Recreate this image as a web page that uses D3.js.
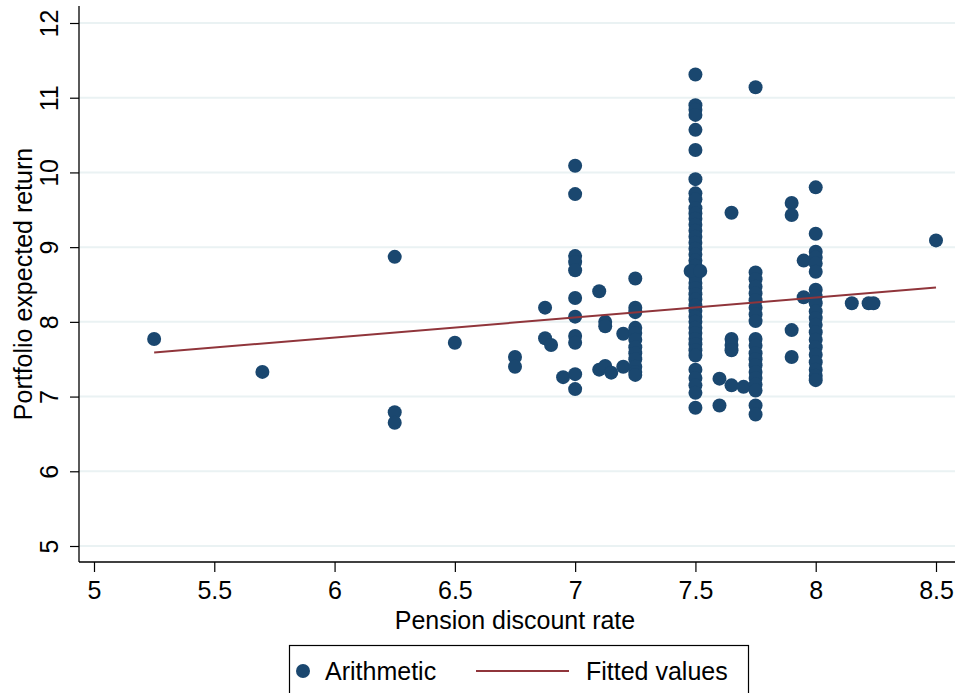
<!DOCTYPE html>
<html><head><meta charset="utf-8">
<script src="https://cdn.jsdelivr.net/npm/d3@7"></script>
<style>
html,body{margin:0;padding:0;background:#fff;}
svg{display:block;font-family:"Liberation Sans",Arial,sans-serif;}
</style></head>
<body><svg id="c" width="959" height="693"></svg>
<script>
// ---- data ----
const discountRate = [
 5.25, 5.7, 6.25, 6.25, 6.25, 6.5, 6.75, 6.75, 6.875, 6.875, 6.9, 6.95,
 7,7,7,7,7,7,7,7,7,7,7,
 7.1, 7.1, 7.125, 7.125, 7.125, 7.15, 7.2, 7.2,
 7.25,7.25,7.25,7.25,7.25,7.25,7.25,7.25,7.25,7.25,7.25,7.25,
 7.5,7.5,7.5,7.5,7.5,7.5,7.5,7.5,7.5,7.5,7.5,7.5,7.5,7.5,7.5,7.5,7.5,7.5,7.5,7.5,
 7.5,7.5,7.5,7.5,7.5,7.5,7.5,7.5,7.5,7.5,7.5,7.5,7.5,7.5,7.5,7.5,7.5,7.5,7.5,7.5,7.5,
 7.48, 7.52,
 7.6, 7.6, 7.65, 7.65, 7.65, 7.65, 7.65, 7.7,
 7.75,7.75,7.75,7.75,7.75,7.75,7.75,7.75,7.75,7.75,7.75,7.75,7.75,7.75,7.75,7.75,7.75,7.75,7.75,7.75,
 7.9, 7.9, 7.9, 7.9, 7.95, 7.95,
 8,8,8,8,8,8,8,8,8,8,8,8,8,8,8,8,8,8,8,8,
 8.15, 8.22, 8.24, 8.5
];
const expectedReturn = [
 7.77, 7.33, 8.87, 6.79, 6.65, 7.72, 7.53, 7.40, 8.19, 7.78, 7.69, 7.26,
 10.09, 9.71, 8.88, 8.80, 8.69, 8.32, 8.07, 7.81, 7.72, 7.30, 7.10,
 8.41, 7.36, 8.00, 7.94, 7.41, 7.32, 7.84, 7.40,
 8.58, 8.19, 8.13, 7.92, 7.85, 7.76, 7.66, 7.58, 7.50, 7.40, 7.33, 7.29,
 11.31, 10.90, 10.84, 10.77, 10.57, 10.30, 9.91, 9.72, 9.64, 9.52, 9.45, 9.38, 9.30, 9.22, 9.14, 9.06, 8.98, 8.90, 8.82, 8.75,
 8.68, 8.60, 8.52, 8.45, 8.37, 8.30, 8.22, 8.15, 8.07, 8.00, 7.92, 7.85, 7.77, 7.70, 7.62, 7.55, 7.36, 7.25, 7.15, 7.05, 6.85,
 8.68, 8.68,
 7.24, 6.88, 9.46, 7.77, 7.69, 7.62, 7.15, 7.13,
 11.14, 8.66, 8.57, 8.47, 8.38, 8.29, 8.19, 8.10, 8.01, 7.77, 7.68, 7.58, 7.50, 7.42, 7.33, 7.25, 7.16, 7.08, 6.88, 6.76,
 9.59, 9.43, 7.89, 7.53, 8.82, 8.33,
 9.80, 9.18, 8.94, 8.86, 8.78, 8.67, 8.43, 8.34, 8.25, 8.14, 8.05, 7.96, 7.86, 7.76, 7.66, 7.56, 7.46, 7.36, 7.28, 7.22,
 8.25, 8.25, 8.25, 9.09
];
const fitX = [5.25, 8.5];
const fitY = [7.59, 8.46];
const xTicks = [5, 5.5, 6, 6.5, 7, 7.5, 8, 8.5];
const yTicks = [5, 6, 7, 8, 9, 10, 11, 12];
const xTitle = "Pension discount rate";
const yTitle = "Portfolio expected return";
const legendLabels = ["Arithmetic", "Fitted values"];

// ---- layout ----
const svg = d3.select("#c");
const L = 79, R = 955, T = 6, B = 562;
const x = d3.scaleLinear().domain([5, 8.5]).range([94, 936]);
const y = d3.scaleLinear().domain([5, 12]).range([546, 23]);
const navy = "#1a476f", maroon = "#90353b";

// grid
svg.append("g").selectAll("line").data(yTicks).join("line")
  .attr("x1", L).attr("x2", R)
  .attr("y1", d => y(d)).attr("y2", d => y(d))
  .attr("stroke", "#eaf2f3").attr("stroke-width", 2);

// axes
const xAxis = svg.append("g").attr("transform", `translate(0,${B})`)
  .call(d3.axisBottom(x).tickValues(xTicks).tickSize(10).tickPadding(9)
    .tickFormat(d3.format("~g")));
xAxis.select(".domain").remove();
xAxis.selectAll("line").attr("stroke", "#000").attr("stroke-width", 1.2);
xAxis.selectAll("text").attr("font-size", 25).attr("fill", "#000")
  .attr("font-family", "Liberation Sans, Arial, sans-serif");

const yAxis = svg.append("g").attr("transform", `translate(${L},0)`)
  .call(d3.axisLeft(y).tickValues(yTicks).tickSize(9).tickPadding(0)
    .tickFormat(d3.format("~g")));
yAxis.select(".domain").remove();
yAxis.selectAll("line").attr("stroke", "#000").attr("stroke-width", 1.2);
yAxis.selectAll(".tick text").attr("font-size", 25).attr("fill", "#000")
  .attr("font-family", "Liberation Sans, Arial, sans-serif")
  .attr("transform", "rotate(-90)")
  .attr("x", 0).attr("y", -21).attr("dy", 0)
  .attr("text-anchor", "middle");

svg.append("line").attr("x1", L).attr("x2", L).attr("y1", T).attr("y2", B)
  .attr("stroke", "#000").attr("stroke-width", 1.3);
svg.append("line").attr("x1", L).attr("x2", R).attr("y1", B).attr("y2", B)
  .attr("stroke", "#000").attr("stroke-width", 1.3);

// titles
svg.append("text").attr("x", (L + R) / 2 - 2).attr("y", 629)
  .attr("text-anchor", "middle").attr("font-size", 25).text(xTitle);
svg.append("text").attr("transform", "translate(32,284) rotate(-90)")
  .attr("text-anchor", "middle").attr("font-size", 25).text(yTitle);

// points
const pts = discountRate.map((d, i) => ({x: d, y: expectedReturn[i]}));
svg.append("g").selectAll("circle").data(pts).join("circle")
  .attr("cx", d => x(d.x)).attr("cy", d => y(d.y)).attr("r", 7)
  .attr("fill", navy);

// fitted line
svg.append("path")
  .datum(fitX.map((d, i) => [d, fitY[i]]))
  .attr("d", d3.line().x(d => x(d[0])).y(d => y(d[1])))
  .attr("stroke", maroon).attr("stroke-width", 2).attr("fill", "none");

// legend
const lg = svg.append("g");
lg.append("rect").attr("x", 289.5).attr("y", 645.5).attr("width", 459).attr("height", 60)
  .attr("fill", "#fff").attr("stroke", "#000").attr("stroke-width", 1.2);
lg.append("circle").attr("cx", 303).attr("cy", 671).attr("r", 7).attr("fill", navy);
lg.append("text").attr("x", 325).attr("y", 680).attr("font-size", 25).text(legendLabels[0]);
lg.append("line").attr("x1", 476).attr("x2", 569).attr("y1", 671).attr("y2", 671)
  .attr("stroke", maroon).attr("stroke-width", 2);
lg.append("text").attr("x", 586).attr("y", 680).attr("font-size", 25).text(legendLabels[1]);
</script></body></html>
